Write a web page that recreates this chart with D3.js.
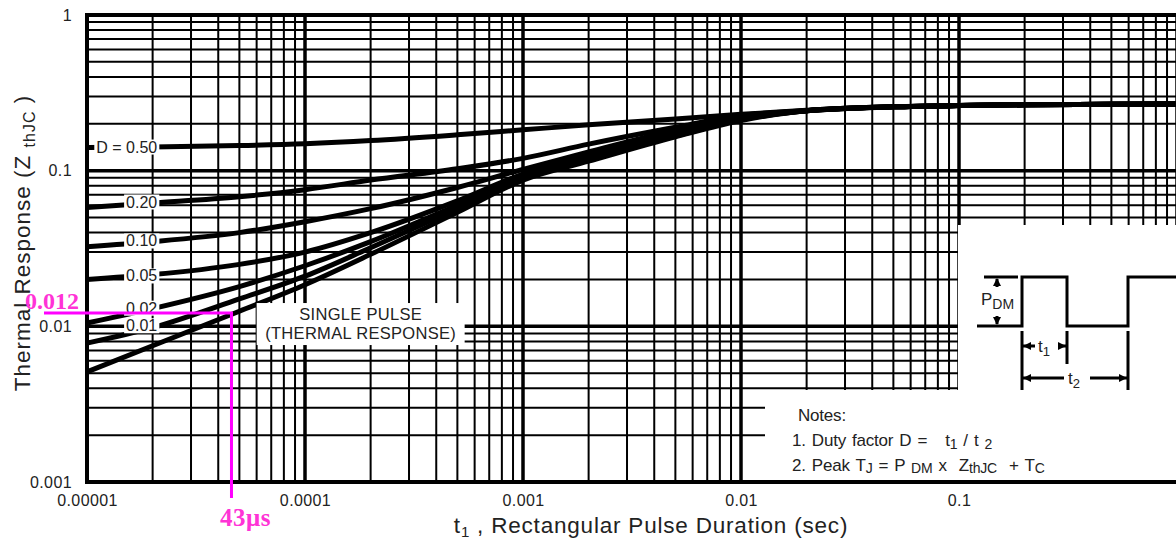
<!DOCTYPE html>
<html>
<head>
<meta charset="utf-8">
<script src="https://cdn.jsdelivr.net/npm/d3@7"></script>
<style>
body{margin:0;background:#fff;}
svg{display:block;font-family:"Liberation Sans",Arial,sans-serif;}
</style>
</head>
<body>
<script>
//DATA
var pulseTimes = [1e-5,2e-5,5e-5,1e-4,2e-4,5e-4,1e-3,2e-3,5e-3,1e-2,2e-2,5e-2,0.1,0.2,0.5,1];
var zD50 = [0.141,0.142,0.145,0.149,0.156,0.170,0.183,0.197,0.215,0.230,0.244,0.257,0.262,0.265,0.267,0.268];
var zD20 = [0.058,0.062,0.068,0.0755,0.087,0.103,0.120,0.148,0.190,0.226,0.243,0.257,0.262,0.265,0.267,0.268];
var zD10 = [0.0325,0.035,0.040,0.047,0.057,0.078,0.102,0.132,0.182,0.222,0.243,0.257,0.262,0.265,0.267,0.268];
var zD05 = [0.020,0.0215,0.025,0.030,0.040,0.064,0.095,0.125,0.176,0.218,0.243,0.257,0.262,0.265,0.267,0.268];
var zD02 = [0.0105,0.013,0.018,0.0245,0.035,0.060,0.091,0.120,0.170,0.214,0.243,0.257,0.262,0.265,0.267,0.268];
var zD01 = [0.0078,0.0098,0.015,0.021,0.032,0.057,0.089,0.117,0.167,0.212,0.243,0.257,0.262,0.265,0.267,0.268];
var zSingle = [0.0051,0.0075,0.0125,0.0185,0.029,0.054,0.087,0.115,0.165,0.210,0.243,0.257,0.262,0.265,0.267,0.268];

var curveLabels = ["D = 0.50","0.20","0.10","0.05","0.02","0.01"];
var labelT = 2.1e-5;
var labelZ = [0.142,0.063,0.0354,0.0211,0.0131,0.0101];

var xTickValues = [1e-5,1e-4,1e-3,1e-2,1e-1];
var xTickLabels = ["0.00001","0.0001","0.001","0.01","0.1"];
var yTickValues = [1,0.1,0.01,0.001];
var yTickLabels = ["1","0.1","0.01","0.001"];

// the hand drawn magenta reading
var markT = 4.6e-5;
var markZ = 0.0122;
var markTLabel = "43\u03bcs";
var markZLabel = "0.012";

//SETTING UP THE CANVAS
var w = 1176;
var h = 541;
var plotL = 87, plotR = 1177, plotT = 15, plotB = 482;

var svg = d3.select("body").append("svg")
  .attr("width", w)
  .attr("height", h)
  .style("background-color", "white");

var x = d3.scaleLog().domain([1e-5, 1]).range([plotL, plotR]);
var y = d3.scaleLog().domain([0.001, 1]).range([plotB, plotT]);

//GRID
function isDecade(v){ return Math.abs(Math.log10(v) - Math.round(Math.log10(v))) < 1e-6; }
svg.append("g").selectAll("line")
  .data(x.ticks())
  .join("line")
  .attr("x1", function(d){ return x(d); })
  .attr("x2", function(d){ return x(d); })
  .attr("y1", plotT).attr("y2", plotB)
  .attr("stroke", "#000")
  .attr("stroke-width", function(d){ return isDecade(d) ? 3.5 : 2; });

svg.append("g").selectAll("line")
  .data(y.ticks())
  .join("line")
  .attr("y1", function(d){ return y(d); })
  .attr("y2", function(d){ return y(d); })
  .attr("x1", plotL).attr("x2", w)
  .attr("stroke", "#000")
  .attr("stroke-width", function(d){ return isDecade(d) ? 3.5 : 2; });

//CURVES
var series = [zD50, zD20, zD10, zD05, zD02, zD01, zSingle];
var line = d3.line()
  .x(function(d, i){ return x(pulseTimes[i]); })
  .y(function(d){ return y(d); })
  .curve(d3.curveMonotoneX);

svg.append("g").selectAll("path")
  .data(series)
  .join("path")
  .attr("d", line)
  .attr("fill", "none")
  .attr("stroke", "#000")
  .attr("stroke-width", 5);

//WHITE PANELS (pulse sketch, notes)
svg.append("rect").attr("x", 958).attr("y", 225).attr("width", w - 958).attr("height", 390 - 225).attr("fill", "white");
svg.append("rect").attr("x", 765).attr("y", 390).attr("width", w - 765).attr("height", plotB - 390 - 1).attr("fill", "white");

//CURVE LABELS with white boxes
var lab = svg.append("g").selectAll("g")
  .data(curveLabels)
  .join("g")
  .attr("transform", function(d, i){ return "translate(" + x(labelT) + "," + y(labelZ[i]) + ")"; });
lab.append("rect");
lab.append("text")
  .attr("text-anchor", "end")
  .attr("dy", "0.35em")
  .attr("font-size", 16)
  .attr("fill", "#222")
  .text(function(d){ return d; });
lab.each(function(){
  var g = d3.select(this);
  var b = g.select("text").node().getBBox();
  g.select("rect").attr("x", b.x - 2).attr("y", b.y + 1).attr("width", b.width + 4).attr("height", b.height - 2).attr("fill", "white");
});

//SINGLE PULSE NOTE
var sp = svg.append("g").attr("transform", "translate(" + x(1.8e-4) + "," + y(0.0105) + ")");
sp.append("rect").attr("x", -104).attr("y", -20).attr("width", 208).attr("height", 42).attr("fill", "white");
sp.append("text").attr("text-anchor", "middle").attr("y", -3).attr("font-size", 16.5).attr("letter-spacing", 0.3).attr("fill", "#222").text("SINGLE PULSE");
sp.append("text").attr("text-anchor", "middle").attr("y", 16).attr("font-size", 16.5).attr("letter-spacing", 0.3).attr("fill", "#222").text("(THERMAL RESPONSE)");

//FRAME
svg.append("line").attr("x1", plotL - 2).attr("x2", w).attr("y1", plotT).attr("y2", plotT).attr("stroke", "#000").attr("stroke-width", 4);
svg.append("line").attr("x1", plotL).attr("x2", plotL).attr("y1", plotT).attr("y2", plotB).attr("stroke", "#000").attr("stroke-width", 4);
svg.append("line").attr("x1", plotL - 2).attr("x2", w).attr("y1", plotB).attr("y2", plotB).attr("stroke", "#000").attr("stroke-width", 4);

//AXES TEXT
var xAxis = svg.append("g")
  .attr("transform", "translate(0," + plotB + ")")
  .call(d3.axisBottom(x).tickValues(xTickValues).tickSize(0).tickPadding(13)
    .tickFormat(function(d, i){ return xTickLabels[i]; }));
var yAxis = svg.append("g")
  .attr("transform", "translate(" + plotL + ",0)")
  .call(d3.axisLeft(y).tickValues(yTickValues).tickSize(0).tickPadding(15)
    .tickFormat(function(d, i){ return yTickLabels[i]; }));
[xAxis, yAxis].forEach(function(a){
  a.select(".domain").remove();
  a.selectAll("text").attr("font-size", 16).attr("letter-spacing", 0.4).attr("fill", "#222").attr("font-family", "Liberation Sans, Arial, sans-serif");
});

var xt = svg.append("text").attr("x", 651).attr("y", 533).attr("text-anchor", "middle").attr("font-size", 22.5).attr("letter-spacing", 0.8).attr("fill", "#222");
xt.append("tspan").text("t");
xt.append("tspan").attr("font-size", 15).attr("dy", 4).text("1");
xt.append("tspan").attr("dy", -4).text(" , Rectangular Pulse Duration (sec)");

var yt = svg.append("text").attr("transform", "translate(30,243) rotate(-90)").attr("text-anchor", "middle").attr("font-size", 22.5).attr("letter-spacing", 1).attr("fill", "#222");
yt.append("tspan").text("Thermal Response (Z ");
yt.append("tspan").attr("font-size", 16).attr("dy", 5).text("thJC");
yt.append("tspan").attr("dy", -5).text(" )");

//PULSE SKETCH
var ps = svg.append("g").attr("stroke", "#000").attr("stroke-width", 3).attr("fill", "none");
ps.append("path").attr("d", "M984,277H1018 M977,326H1022V277H1067V326H1128V277H1176");
ps.append("path").attr("d", "M1022,331V390 M1067,331V364 M1128,331V390");
ps.append("path").attr("d", "M997,279V287 M997,316V324");
ps.append("path").attr("d", "M1022,346H1035 M1060,346H1067 M1022,378H1064 M1090,378H1128");
var pa = svg.append("g").attr("fill", "#000");
pa.append("path").attr("d", "M997,278L993,286H1001Z M997,325L993,317H1001Z");
pa.append("path").attr("d", "M1023,346L1031,342V350Z M1066,346L1058,342V350Z M1023,378L1031,374V382Z M1127,378L1119,374V382Z");
var ptxt = svg.append("g").attr("font-size", 17).attr("fill", "#222");
var pdm = ptxt.append("text").attr("x", 981).attr("y", 305);
pdm.append("tspan").text("P");
pdm.append("tspan").attr("font-size", 14).attr("dy", 4).text("DM");
var t1 = ptxt.append("text").attr("x", 1038).attr("y", 352);
t1.append("tspan").text("t");
t1.append("tspan").attr("font-size", 13).attr("dy", 4).text("1");
var t2 = ptxt.append("text").attr("x", 1068).attr("y", 384);
t2.append("tspan").text("t");
t2.append("tspan").attr("font-size", 13).attr("dy", 4).text("2");

//NOTES
var notes = svg.append("g").attr("font-size", 17).attr("fill", "#222").attr("letter-spacing", -0.2).attr("word-spacing", 1.5);
notes.append("text").attr("x", 798).attr("y", 421).text("Notes:");
var n1 = notes.append("text").attr("x", 792).attr("y", 446).attr("xml:space", "preserve");
n1.append("tspan").text("1. Duty factor D =   t");
n1.append("tspan").attr("font-size", 14).attr("dy", 3).text("1");
n1.append("tspan").attr("dy", -3).text(" / t ");
n1.append("tspan").attr("font-size", 14).attr("dy", 3).text("2");
var n2 = notes.append("text").attr("x", 792).attr("y", 471).attr("xml:space", "preserve");
n2.append("tspan").text("2. Peak T");
n2.append("tspan").attr("font-size", 14).attr("dy", 2).text("J");
n2.append("tspan").attr("dy", -2).text(" = P ");
n2.append("tspan").attr("font-size", 14).attr("dy", 2).text("DM");
n2.append("tspan").attr("dy", -2).text(" x  Z");
n2.append("tspan").attr("font-size", 14).attr("dy", 2).text("thJC");
n2.append("tspan").attr("dy", -2).text("  + T");
n2.append("tspan").attr("font-size", 14).attr("dy", 2).text("C");

//MAGENTA READING
var mg = svg.append("g");
mg.append("path")
  .attr("d", "M" + 44 + "," + y(markZ) + "H" + x(markT) + "V" + 498)
  .attr("fill", "none").attr("stroke", "#ff00ff").attr("stroke-width", 3);
mg.append("text").attr("x", 25).attr("y", 309).attr("font-family", "Liberation Serif, Times New Roman, serif")
  .attr("font-weight", "bold").attr("font-size", 24).attr("fill", "#ff33d6").text(markZLabel);
mg.append("text").attr("x", 220).attr("y", 526).attr("font-family", "Liberation Serif, Times New Roman, serif")
  .attr("font-weight", "bold").attr("font-size", 25).attr("letter-spacing", 0.5).attr("fill", "#ff33d6").text(markTLabel);
</script>
</body>
</html>
